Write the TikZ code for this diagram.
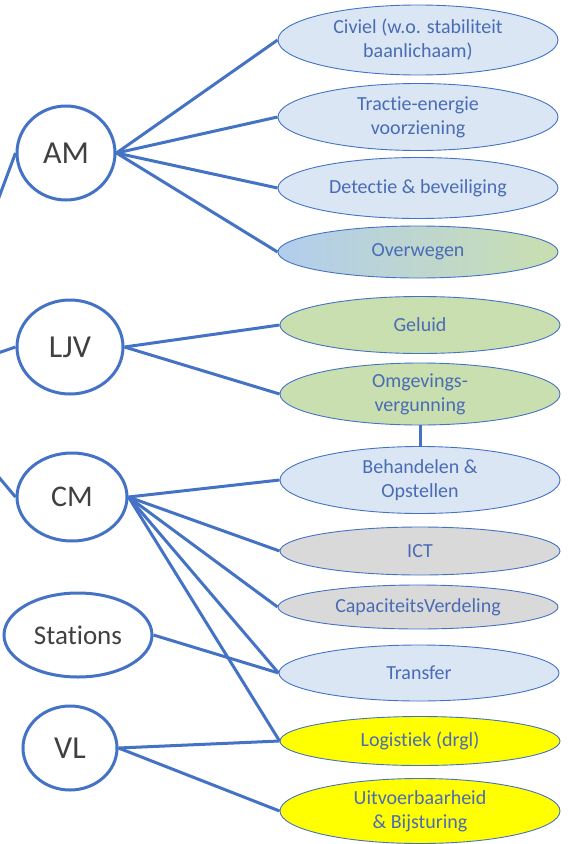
\documentclass[tikz,border=0pt]{standalone}
\usepackage{fontspec}
\setmainfont{Carlito}[Ligatures={NoCommon,NoContextual}, RawFeature={-liga;-clig;-calt}]
\usepackage{xcolor}
\usetikzlibrary{shapes.geometric}
\definecolor{linkblue}{HTML}{4472C4}
\definecolor{labelblue}{HTML}{4A6CB5}
\definecolor{ownergrey}{HTML}{404040}
\definecolor{paleblue}{HTML}{DAE6F4}
\definecolor{palegreen}{HTML}{C9DFAF}
\definecolor{midblue}{HTML}{B2CDEE}
\definecolor{palegrey}{HTML}{D9D9D9}
\definecolor{signyellow}{HTML}{FFFF00}

\begin{document}
\begin{tikzpicture}[x=1pt, y=-1pt,
    topic/.style={ellipse, draw=linkblue, line width=0.9pt, minimum width=280pt, inner sep=0pt, align=center, text=labelblue, font=\fontsize{20}{24}\selectfont},
    owner/.style={ellipse, draw=linkblue, line width=3pt, fill=white, inner sep=0pt, text=ownergrey, font=\fontsize{32}{36}\selectfont},
    link/.style={draw=linkblue, line width=3pt},
]
    \useasboundingbox (0,0) rectangle (568,844);
    \clip (0,0) rectangle (568,844);

    % owners on the left
    \node[owner, minimum width=98pt, minimum height=94pt] (am) at (66,153) {AM};
    \node[owner, minimum width=106pt, minimum height=94pt] (ljv) at (70,347) {LJV};
    \node[owner, minimum width=110pt, minimum height=88pt, font=\fontsize{30}{34}\selectfont] (cm) at (72,497) {CM};
    \node[owner, minimum width=148pt, minimum height=84pt, font=\fontsize{27}{30}\selectfont] (stations) at (78,635) {Stations};
    \node[owner, minimum width=94pt, minimum height=84pt] (vl) at (70,748) {VL};

    % topics on the right
    \node[topic, fill=paleblue, minimum height=70pt] (civiel) at (418,40) {Civiel (w.o. stabiliteit\\baanlichaam)};
    \node[topic, fill=paleblue, minimum height=67pt] (tractie) at (418,117) {Tractie-energie\\voorziening};
    \node[topic, fill=paleblue, minimum height=61pt] (detectie) at (418,188) {Detectie \& beveiliging};
    \node[topic, left color=midblue, right color=palegreen, minimum height=52pt] (overwegen) at (418,252) {Overwegen};
    \node[topic, fill=palegreen, minimum height=57pt] (geluid) at (420,325) {Geluid};
    \node[topic, fill=palegreen, minimum height=62pt] (omgeving) at (420,394) {Omgevings-\\vergunning};
    \node[topic, fill=paleblue, minimum height=67pt] (behandelen) at (420,480) {Behandelen \&\\Opstellen};
    \node[topic, fill=palegrey, minimum height=48pt] (ict) at (420,551) {ICT};
    \node[topic, fill=palegrey, minimum height=44pt] (capaciteit) at (418,607) {CapaciteitsVerdeling};
    \node[topic, fill=paleblue, minimum height=56pt] (transfer) at (419,673) {Transfer};
    \node[topic, fill=signyellow, minimum height=49pt] (logistiek) at (420,741) {Logistiek (drgl)};
    \node[topic, fill=signyellow, minimum height=65pt] (uitvoer) at (420,811) {Uitvoerbaarheid\\\& Bijsturing};

    % links leaving the picture on the left
    \coordinate (offam) at (-30,275);
    \coordinate (offljv) at (-40,366);
    \coordinate (offcm) at (-40,431);
    \draw[link] (am.west) -- (offam);
    \draw[link] (ljv.west) -- (offljv);
    \draw[link] (cm.west) -- (offcm);

    \foreach \t in {civiel, tractie, detectie, overwegen}
        \draw[link] (am.east) -- (\t.west);
    \foreach \t in {geluid, omgeving}
        \draw[link] (ljv.east) -- (\t.west);
    \foreach \t in {behandelen, ict, capaciteit, transfer, logistiek}
        \draw[link] (cm.east) -- (\t.west);
    \draw[link] (stations.east) -- (transfer.west);
    \draw[link] (vl.east) -- (logistiek.west);
    \draw[link] (vl.east) -- (uitvoer.west);
    \draw[link] (omgeving.south) -- (behandelen.north);
\end{tikzpicture}
\end{document}
